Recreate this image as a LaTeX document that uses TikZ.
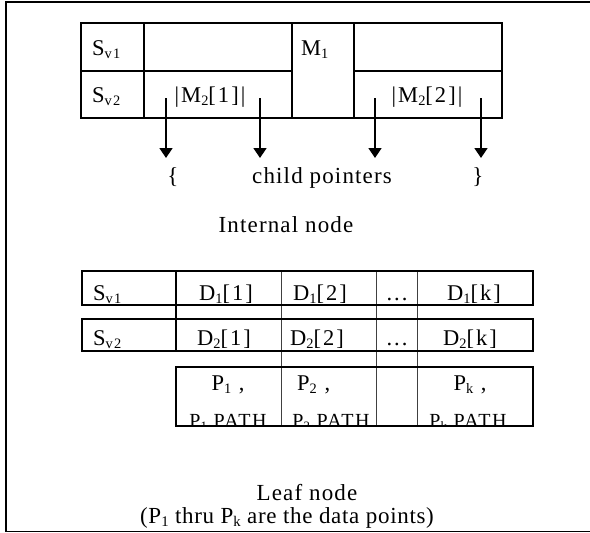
\documentclass[tikz,border=0pt]{standalone}
\usepackage{fontspec}
\setmainfont{Liberation Serif}[LetterSpace=3]
\newfontfamily\tblfont{Liberation Serif}[LetterSpace=9]
\newfontfamily\pathfont{Liberation Serif}[LetterSpace=8]
\newfontfamily\lblfont{Liberation Serif}[LetterSpace=5]
\usetikzlibrary{arrows.meta}
\newcommand\sbs[1]{\raisebox{-0.35ex}{\scalebox{0.64}{#1}}}
\tikzset{
  frameline/.style={line width=1.8pt},
  thick line/.style={line width=1.8pt},
  thin line/.style={line width=0.9pt, black!75},
  tbl/.style={font=\tblfont\fontsize{22.5}{24}\selectfont, inner sep=0pt},
  lbl/.style={font=\lblfont\fontsize{23}{25}\selectfont, inner sep=0pt},
  note/.style={font=\fontsize{23}{25}\selectfont, inner sep=0pt},
  pathtxt/.style={font=\pathfont\fontsize{20}{22}\selectfont, inner sep=0pt},
  ptr/.style={line width=1.5pt, -{Triangle[width=13pt,length=10pt]}},
}
\begin{document}
\begin{tikzpicture}[x=1pt,y=-1pt]
\useasboundingbox (0,0) rectangle (590,533);
% outer frame (cut at the right)
\draw[frameline] (590,2) -- (6,2) -- (6,531.5) -- (590,531.5);

% ---------- internal node ----------
\draw[thick line] (81,23) rectangle (502,118);
\draw[thick line] (144,23) -- (144,118);
\draw[thick line] (292,23) -- (292,118);
\draw[thick line] (354,23) -- (354,118);
\draw[thick line] (81,71) -- (292,71);
\draw[thick line] (354,71) -- (502,71);

\node[tbl, anchor=base west] (isv1) at (92,55) {S\sbs{v1}};
\node[tbl, anchor=base west] (im1) at (301,55) {M\sbs{1}};
\node[tbl, anchor=base west] (isv2) at (92,102) {S\sbs{v2}};
\node[tbl, anchor=base] (im21) at (210,102) {|M\sbs{2}[1]|};
\node[tbl, anchor=base] (im22) at (427,102) {|M\sbs{2}[2]|};

\coordinate (a1s) at (166,98);  \coordinate (a1e) at (166,158);
\coordinate (a2s) at (260,98);  \coordinate (a2e) at (260,158);
\coordinate (a3s) at (375,98);  \coordinate (a3e) at (375,158);
\coordinate (a4s) at (481,98);  \coordinate (a4e) at (481,158);
\draw[ptr] (a1s) -- (a1e);
\draw[ptr] (a2s) -- (a2e);
\draw[ptr] (a3s) -- (a3e);
\draw[ptr] (a4s) -- (a4e);

\node[lbl, anchor=base] (lb) at (173,183) {\{};
\node[lbl, anchor=base] (cp) at (322,183) {child pointers};
\node[lbl, anchor=base] (rb) at (478,183) {\}};
\node[lbl, anchor=base] (inode) at (286,232) {Internal node};

% ---------- leaf node ----------
\draw[thin line] (281,271) -- (281,426);
\draw[thin line] (376,271) -- (376,426);
\draw[thin line] (417,271) -- (417,426);
\draw[thick line] (176,271) -- (176,351);
\draw[thick line] (82,271) rectangle (533,305);
\draw[thick line] (82,319) rectangle (533,351);

\node[tbl, anchor=base west] (lsv1) at (93,300) {S\sbs{v1}};
\node[tbl, anchor=base] (d11) at (226,300) {D\sbs{1}[1]};
\node[tbl, anchor=base west] (d12) at (293,300) {D\sbs{1}[2]};
\node[tbl, anchor=base] (dots1) at (397,300) {...};
\node[tbl, anchor=base] (d1k) at (474,300) {D\sbs{1}[k]};

\node[tbl, anchor=base west] (lsv2) at (93,345) {S\sbs{v2}};
\node[tbl, anchor=base] (d21) at (224,345) {D\sbs{2}[1]};
\node[tbl, anchor=base west] (d22) at (290,345) {D\sbs{2}[2]};
\node[tbl, anchor=base] (dots2) at (397,345) {...};
\node[tbl, anchor=base] (d2k) at (470,345) {D\sbs{2}[k]};

\node[tbl, anchor=base] (p1) at (228,390) {P\sbs{1} ,};
\node[tbl, anchor=base west] (p2) at (297,390) {P\sbs{2} ,};
\node[tbl, anchor=base] (pk) at (470,390) {P\sbs{k} ,};

\begin{scope}
  \clip (176,367) rectangle (533,425);
  \node[pathtxt, anchor=base] (p1path) at (228,427) {P\sbs{1}.PATH};
  \node[pathtxt, anchor=base] (p2path) at (331,427) {P\sbs{2}.PATH};
  \node[pathtxt, anchor=base] (dots3) at (397,431) {...};
  \node[pathtxt, anchor=base] (pkpath) at (468,427) {P\sbs{k}.PATH};
\end{scope}
\draw[thick line] (176,367) rectangle (533,426);

\node[lbl, anchor=base] (leaf) at (307,500) {Leaf node};
\node[note, anchor=base] (note) at (287,523) {(P\sbs{1} thru P\sbs{k} are the data points)};
\end{tikzpicture}
\end{document}
